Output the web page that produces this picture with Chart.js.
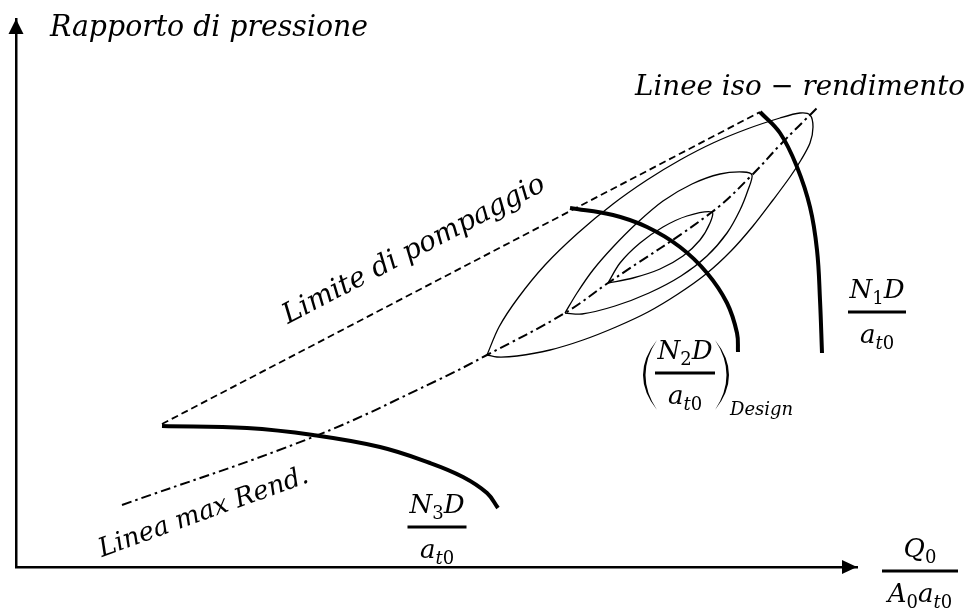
<!DOCTYPE html>
<html>
<head>
<meta charset="utf-8">
<title>Mappa del compressore</title>
<script src="https://cdn.jsdelivr.net/npm/chart.js@4.4.1/dist/chart.umd.min.js"></script>
<style>
  html, body { margin: 0; padding: 0; background: #fff; }
  #map { display: block; }
</style>
</head>
<body>
<canvas id="map" width="971" height="610"></canvas>
<script>
// Mappa qualitativa: portata ridotta (x) e rapporto di pressione (y), unità arbitrarie
const X_MAX = 841;
const Y_MAX = 548;

const surgeLine = [[146, 143], [744, 455]];
const maxEffLine = [[106, 62], [297, 130], [422, 187], [471, 212], [549, 254], [592, 284],
                    [696, 355], [736, 392], [764, 422], [801, 459]];

// linee a velocità costante N1 > N2 > N3
const speedN1 = [[744, 455], [764, 434], [781, 400], [794, 360], [801, 317], [804, 267], [806, 214]];
const speedN2 = [[554, 359], [597, 352], [631, 340], [664, 320], [691, 294], [711, 264], [721, 234], [722, 215]];
const speedN3 = [[146, 141], [231, 139], [297, 132], [364, 120], [414, 104], [447, 90], [471, 74], [482, 59]];

// curve chiuse iso-rendimento
const isoEffOuter = [[471, 212], [483, 240], [502, 269], [529, 302], [562, 334], [597, 363], [631, 387],
                     [664, 407], [697, 424], [731, 438], [764, 449], [784, 454], [794, 452], [797, 440],
                     [794, 424], [785, 407], [774, 390], [757, 367], [737, 341], [715, 316], [690, 293],
                     [662, 273], [632, 255], [600, 240], [567, 227], [534, 217], [501, 211], [481, 210],
                     [471, 212]];
const isoEffMid = [[549, 254], [561, 274], [577, 297], [597, 320], [621, 344], [647, 366], [676, 383],
                   [704, 393], [727, 395], [736, 392], [732, 377], [724, 357], [711, 334], [691, 311],
                   [665, 291], [633, 274], [599, 261], [566, 253], [549, 254]];
const isoEffInner = [[592, 284], [604, 304], [624, 324], [647, 340], [671, 351], [696, 355], [694, 344],
                     [684, 327], [667, 311], [644, 298], [617, 289], [592, 284]];

const toXY = pts => pts.map(([x, y]) => ({ x, y }));

function curve(pts, width, dash, tension) {
    return {
        data: toXY(pts),
        showLine: true,
        borderColor: '#000',
        borderWidth: width,
        borderDash: dash || [],
        tension: tension,
        pointRadius: 0,
        fill: false
    };
}

const FONT = '"DejaVu Serif", "Liberation Serif", serif';

// testo matematico a pezzi: i = corsivo, r = dritto, si/sr = pedici
function runFont(kind, size) {
    const sub = kind[0] === 's';
    const italic = kind.endsWith('i');
    return (italic ? 'italic ' : '') + Math.round(sub ? size * 0.68 : size) + 'px ' + FONT;
}

function drawRuns(ctx, runs, cx, baseline, size) {
    let total = 0;
    const widths = runs.map(([t, k]) => {
        ctx.font = runFont(k, size);
        const w = ctx.measureText(t).width;
        total += w;
        return w;
    });
    let x = cx - total / 2;
    ctx.textAlign = 'left';
    ctx.textBaseline = 'alphabetic';
    runs.forEach(([t, k], i) => {
        ctx.font = runFont(k, size);
        ctx.fillText(t, x, baseline + (k[0] === 's' ? size * 0.22 : 0));
        x += widths[i];
    });
}

function drawFrac(ctx, cx, barY, barW, num, den) {
    drawRuns(ctx, num, cx, barY - 14, 26);
    ctx.fillRect(cx - barW / 2, barY - 1.5, barW, 3);
    drawRuns(ctx, den, cx, barY + 31, 26);
}

function label(ctx, text, x, y, size, width, angle) {
    ctx.save();
    ctx.translate(x, y);
    ctx.rotate((angle || 0) * Math.PI / 180);
    ctx.font = 'italic ' + size + 'px ' + FONT;
    ctx.textAlign = 'left';
    ctx.textBaseline = 'alphabetic';
    ctx.fillText(text, 0, 0, width);
    ctx.restore();
}

function paren(ctx, xEnd, xOuter, xInner, y0, y1) {
    const ym = (y0 + y1) / 2;
    ctx.beginPath();
    ctx.moveTo(xEnd, y0);
    ctx.quadraticCurveTo(xOuter, ym, xEnd, y1);
    ctx.quadraticCurveTo(xInner, ym, xEnd, y0);
    ctx.fill();
}

const annotations = {
    id: 'annotations',
    afterDraw(chart) {
        const ctx = chart.ctx;
        const a = chart.chartArea;
        ctx.save();
        ctx.fillStyle = '#000';

        // punte delle frecce sugli assi
        ctx.beginPath();
        ctx.moveTo(a.left, a.top);
        ctx.lineTo(a.left - 7.5, a.top + 15);
        ctx.lineTo(a.left + 7.5, a.top + 15);
        ctx.closePath();
        ctx.fill();
        ctx.beginPath();
        ctx.moveTo(a.right, a.bottom);
        ctx.lineTo(a.right - 15, a.bottom - 7);
        ctx.lineTo(a.right - 15, a.bottom + 7);
        ctx.closePath();
        ctx.fill();

        label(ctx, 'Rapporto di pressione', 50, 36, 29, 318);
        label(ctx, 'Linee iso \u2212 rendimento', 635, 95, 28, 330);
        label(ctx, 'Limite di pompaggio', 288, 324, 28, 292, -27.5);
        label(ctx, 'Linea max Rend.', 102, 557, 26, 226, -19.9);

        const at0 = [['a', 'i'], ['t', 'si'], ['0', 'sr']];
        drawFrac(ctx, 877, 312, 58, [['N', 'i'], ['1', 'sr'], ['D', 'i']], at0);
        drawFrac(ctx, 685, 373, 60, [['N', 'i'], ['2', 'sr'], ['D', 'i']], at0);
        drawFrac(ctx, 437, 527, 59, [['N', 'i'], ['3', 'sr'], ['D', 'i']], at0);
        drawFrac(ctx, 920, 571, 76, [['Q', 'i'], ['0', 'sr']],
                 [['A', 'i'], ['0', 'sr'], ['a', 'i'], ['t', 'si'], ['0', 'sr']]);

        paren(ctx, 657, 629, 634, 340, 410);
        paren(ctx, 715, 743, 738, 340, 410);
        label(ctx, 'Design', 730, 415, 18, 77);

        ctx.restore();
    }
};

const hiddenAxis = max => ({
    type: 'linear',
    min: 0,
    max: max,
    grid: { display: false, drawTicks: false },
    ticks: { display: false },
    border: { display: true, color: '#000', width: 2.5 }
});

new Chart(document.getElementById('map'), {
    type: 'scatter',
    data: {
        datasets: [
            curve(isoEffOuter, 1.3, null, 0.3),
            curve(isoEffMid, 1.3, null, 0.3),
            curve(isoEffInner, 1.3, null, 0.3),
            curve(surgeLine, 1.8, [7, 4], 0),
            curve(maxEffLine, 2, [10, 4, 2.5, 4], 0.4),
            curve(speedN1, 4, null, 0.4),
            curve(speedN2, 4, null, 0.4),
            curve(speedN3, 4, null, 0.4)
        ]
    },
    options: {
        responsive: false,
        animation: false,
        devicePixelRatio: 1,
        layout: { padding: { left: 16, right: 114, top: 19, bottom: 43 } },
        plugins: {
            legend: { display: false },
            tooltip: { enabled: false }
        },
        scales: {
            x: hiddenAxis(X_MAX),
            y: hiddenAxis(Y_MAX)
        }
    },
    plugins: [annotations]
});
</script>
</body>
</html>
